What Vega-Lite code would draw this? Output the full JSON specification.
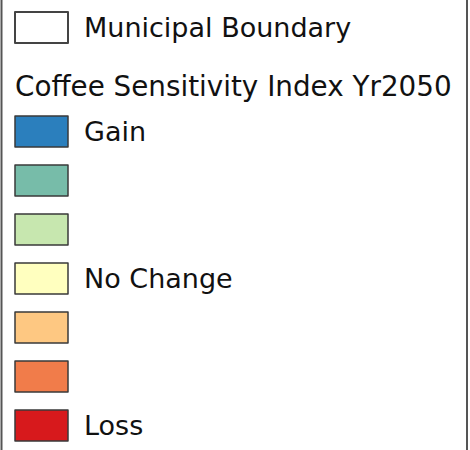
{
  "$schema": "https://vega.github.io/schema/vega-lite/v6.json",
  "width": 470,
  "height": 450,
  "autosize": "none",
  "padding": 0,
  "background": "white",
  "config": {"view": {"stroke": null}, "axis": {"disable": true}},
  "datasets": {
    "classes": [
      {"order": 2, "cls": "c1", "label": "Gain"},
      {"order": 3, "cls": "c2", "label": ""},
      {"order": 4, "cls": "c3", "label": ""},
      {"order": 5, "cls": "c4", "label": "No Change"},
      {"order": 6, "cls": "c5", "label": ""},
      {"order": 7, "cls": "c6", "label": ""},
      {"order": 8, "cls": "c7", "label": "Loss"}
    ],
    "boundary": [{"order": 0, "label": "Municipal Boundary"}],
    "title": [{"order": 1, "label": "Coffee Sensitivity Index Yr2050"}]
  },
  "layer": [
    {
      "data": {"name": "boundary"},
      "mark": {"type": "point", "shape": "M-1,-0.585H1V0.585H-1Z", "size": 2809, "filled": true, "fill": "white", "stroke": "#444444", "strokeWidth": 2, "opacity": 1, "yOffset": -6, "strokeJoin": "round"},
      "encoding": {
        "x": {"datum": 41.5, "type": "quantitative", "scale": {"domain": [0, 470], "range": [0, 470], "zero": false, "nice": false}},
        "y": {"field": "order", "type": "quantitative", "scale": {"domain": [0, 8], "range": [33.5, 425.5], "zero": false, "nice": false}}
      }
    },
    {
      "data": {"name": "title"},
      "mark": {"type": "rule", "stroke": "#555555", "strokeWidth": 2},
      "encoding": {
        "x": {"datum": 1.5, "type": "quantitative"},
        "y": {"datum": -1, "type": "quantitative"},
        "y2": {"datum": 9}
      }
    },
    {
      "data": {"name": "title"},
      "mark": {"type": "rule", "stroke": "#555555", "strokeWidth": 2},
      "encoding": {
        "x": {"datum": 467, "type": "quantitative"},
        "y": {"datum": -1, "type": "quantitative"},
        "y2": {"datum": 9}
      }
    },
    {
      "data": {"name": "boundary"},
      "mark": {"type": "text", "align": "left", "baseline": "alphabetic", "font": "DejaVu Sans", "fontSize": 27, "color": "#111111", "yOffset": 3.5},
      "encoding": {
        "x": {"datum": 84, "type": "quantitative"},
        "y": {"field": "order", "type": "quantitative"},
        "text": {"field": "label"}
      }
    },
    {
      "data": {"name": "title"},
      "mark": {"type": "text", "align": "left", "baseline": "alphabetic", "font": "DejaVu Sans", "fontSize": 27.8, "color": "#111111", "yOffset": 13.5},
      "encoding": {
        "x": {"datum": 15, "type": "quantitative"},
        "y": {"field": "order", "type": "quantitative"},
        "text": {"field": "label"}
      }
    },
    {
      "data": {"name": "classes"},
      "mark": {"type": "point", "shape": "M-1,-0.585H1V0.585H-1Z", "size": 2809, "filled": true, "stroke": "#3a3a3a", "strokeWidth": 1.5, "opacity": 1, "strokeJoin": "round"},
      "encoding": {
        "x": {"datum": 41.5, "type": "quantitative"},
        "y": {"field": "order", "type": "quantitative"},
        "fill": {"field": "cls", "type": "nominal", "legend": null, "scale": {"domain": ["c1", "c2", "c3", "c4", "c5", "c6", "c7"], "range": ["#2b7fbd", "#77bca9", "#c7e7af", "#ffffbf", "#fec882", "#f17c4a", "#d7191c"]}}
      }
    },
    {
      "data": {"name": "classes"},
      "mark": {"type": "text", "align": "left", "baseline": "alphabetic", "font": "DejaVu Sans", "fontSize": 27, "color": "#111111", "yOffset": 9.5},
      "encoding": {
        "x": {"datum": 84, "type": "quantitative"},
        "y": {"field": "order", "type": "quantitative"},
        "text": {"field": "label"}
      }
    }
  ]
}
